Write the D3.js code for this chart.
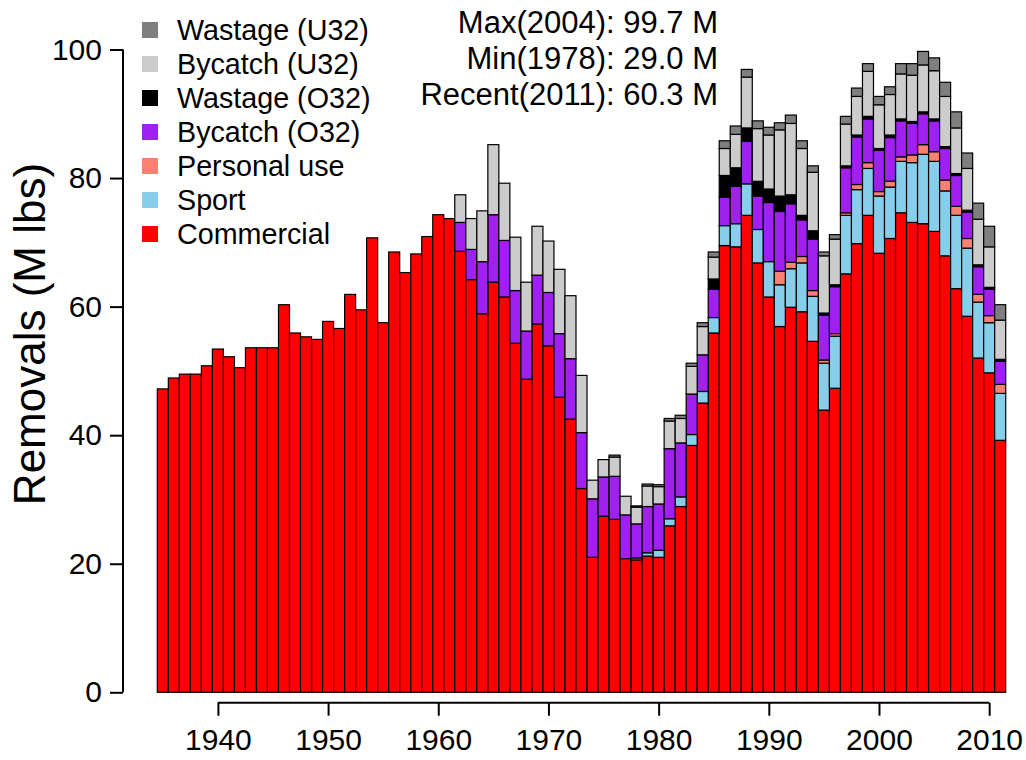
<!DOCTYPE html>
<html><head><meta charset="utf-8">
<script src="https://cdn.jsdelivr.net/npm/d3@7"></script>
<style>body{margin:0;background:#fff}svg{display:block;font-family:"Liberation Sans",Arial,sans-serif}</style>
</head><body>
<svg id="chart" width="1026" height="760"></svg>
<script>
const years = [1935,1936,1937,1938,1939,1940,1941,1942,1943,1944,1945,1946,1947,1948,1949,1950,1951,1952,1953,1954,1955,1956,1957,1958,1959,1960,1961,1962,1963,1964,1965,1966,1967,1968,1969,1970,1971,1972,1973,1974,1975,1976,1977,1978,1979,1980,1981,1982,1983,1984,1985,1986,1987,1988,1989,1990,1991,1992,1993,1994,1995,1996,1997,1998,1999,2000,2001,2002,2003,2004,2005,2006,2007,2008,2009,2010,2011];

const commercial = [47.2,48.9,49.5,49.5,50.8,53.4,52.2,50.5,53.6,53.6,53.6,60.3,55.9,55.3,54.9,57.7,56.6,61.9,59.5,70.7,57.5,68.5,65.3,68.2,70.9,74.3,73.7,
 68.6,64.2,58.9,63.8,61.5,54.3,48.7,57.3,53.9,45.9,42.5,31.7,
 21.0,27.4,26.9,20.8,20.6,21.2,21.0,25.9,28.9,38.4,45.0,
 55.9,69.5,69.3,74.2,66.8,61.5,56.9,59.9,59.2,54.6,43.9,47.3,
 65.1,69.8,74.2,68.3,70.6,74.6,73.1,72.9,71.7,67.9,62.8,58.5,52.0,49.7,39.2];
const sport = [0,0,0,0,0,0,0,0,0,0,0,0,0,0,0,0,0,0,0,0,0,0,0,0,0,0,0,0,0,0,0,0,0,0,0,0,0,0,0,0,0,0,0,
 0.3,0.5,1.1,1.1,1.5,1.7,1.8,2.4,3.1,3.6,4.9,5.2,5.5,6.5,6.0,7.6,7.0,7.3,8.1,9.1,8.4,7.3,8.9,8.0,8.0,9.3,10.8,10.9,10.1,11.4,10.6,8.7,7.8,7.3];
const personalUse = [0,0,0,0,0,0,0,0,0,0,0,0,0,0,0,0,0,0,0,0,0,0,0,0,0,0,0,0,0,0,0,0,0,0,0,0,0,0,0,0,0,0,0,0,0,0,0,0,0,0,0,0,0,0,0,0,
 2.1,1.0,1.0,0.9,0.5,0.4,0.4,0.8,0.9,0.7,0.9,0.7,1.2,1.5,1.5,1.7,1.4,1.5,1.2,1.1,1.4];
const bycatchO32 = [0,0,0,0,0,0,0,0,0,0,0,0,0,0,0,0,0,0,0,0,0,0,0,0,0,0,0,
 4.5,4.7,8.1,10.5,8.8,8.2,7.5,7.6,8.3,9.9,9.4,8.7,9.1,6.1,6.7,6.8,5.3,7.2,7.2,10.9,8.4,6.3,5.7,
 4.4,4.4,5.8,6.6,5.2,9.2,9.3,9.1,5.7,8.0,7.0,7.3,7.0,7.4,6.8,6.4,6.8,5.6,4.9,4.8,4.8,4.9,4.8,4.1,4.3,4.1,3.6];
const wastageO32 = [0,0,0,0,0,0,0,0,0,0,0,0,0,0,0,0,0,0,0,0,0,0,0,0,0,0,0,0,0,0,0,0,0,0,0,0,0,0,0,0,0,0,0,0,0,0,0,0,0,0,
 1.6,3.4,2.9,2.1,2.3,2.1,2.4,1.4,0.7,1.3,0.3,0.3,0.3,0.3,0.4,0.3,0.4,0.3,0.3,0.3,0.3,0.3,0.3,0.3,0.3,0.3,0.3];
const bycatchU32 = [0,0,0,0,0,0,0,0,0,0,0,0,0,0,0,0,0,0,0,0,0,0,0,0,0,0,0,
 4.3,4.8,7.9,10.9,8.9,8.3,7.6,7.6,8.0,10.0,9.8,8.9,2.9,2.7,3.0,2.9,2.6,3.2,2.7,4.3,3.8,4.3,4.4,
 3.4,4.2,5.2,7.9,8.2,8.4,10.3,11.1,10.4,9.1,8.9,7.1,6.5,6.0,7.0,6.8,6.3,7.0,7.2,7.3,7.5,7.8,7.1,6.5,7.1,6.3,6.1];
const wastageU32 = [0,0,0,0,0,0,0,0,0,0,0,0,0,0,0,0,0,0,0,0,0,0,0,0,0,0,0,0,0,0,0,0,0,0,0,0,0,0,0,0,0,
 0.3,0,0.2,0.3,0.3,0.4,0.5,0.5,0.6,0.8,1.2,1.3,1.2,1.2,1.2,1.1,1.3,1.2,1.0,0.6,0.7,1.2,1.3,1.2,1.3,1.2,1.6,1.8,2.1,2.0,2.2,2.5,2.4,2.5,3.2,2.4];

const seriesNames = ["Commercial","Sport","Personal use","Bycatch (O32)","Wastage (O32)","Bycatch (U32)","Wastage (U32)"];
const seriesColors = ["#FF0000","#87CEEB","#FA8072","#A020F0","#000000","#CCCCCC","#7F7F7F"];
const yTicks = [0,20,40,60,80,100];
const xTicks = [1940,1950,1960,1970,1980,1990,2000,2010];
const statLines = ["Max(2004): 99.7 M","Min(1978): 29.0 M","Recent(2011): 60.3 M"];
const yTitle = "Removals (M lbs)";

const seriesData = [commercial, sport, personalUse, bycatchO32, wastageO32, bycatchU32, wastageU32];
const table = years.map((yr, i) => {
  const row = {year: yr};
  seriesNames.forEach((k, j) => row[k] = seriesData[j][i]);
  return row;
});

const svg = d3.select("#chart");
const x = d3.scaleBand().domain(years).range([157.3, 1005.7]).padding(0);
const y = d3.scaleLinear().domain([0, 100]).range([692.3, 49.5]);
const color = d3.scaleOrdinal().domain(seriesNames).range(seriesColors);

const stacked = d3.stack().keys(seriesNames)(table);

svg.append("g").selectAll("g").data(stacked).join("g")
  .attr("fill", d => color(d.key))
  .selectAll("rect").data(d => d).join("rect")
  .attr("x", d => x(d.data.year))
  .attr("width", x.bandwidth())
  .attr("y", d => y(d[1]))
  .attr("height", d => Math.max(0, y(d[0]) - y(d[1])))
  .attr("stroke", "#000")
  .attr("stroke-width", 1.2)
  .attr("display", d => (d[1] - d[0]) > 0 ? null : "none");

// y axis
const yAxis = svg.append("g").attr("transform", "translate(123,0)")
  .call(d3.axisLeft(y).tickValues(yTicks).tickSize(13).tickPadding(8).tickFormat(d3.format("d")));
yAxis.select(".domain").attr("stroke-width", 2).attr("d", `M-0,${y(0)}V${y(100)}`);
yAxis.selectAll(".tick line").attr("stroke-width", 2);
yAxis.selectAll("text").attr("font-size", 30).attr("font-family", "Liberation Sans, Arial, sans-serif").attr("fill", "#000");

// x axis
const xc = d => x(d) + x.bandwidth() / 2;
const xAxisScale = d3.scaleLinear().domain([1940, 2010]).range([xc(1940), xc(2010)]);
const xAxis = svg.append("g").attr("transform", "translate(0,702.7)")
  .call(d3.axisBottom(xAxisScale).tickValues(xTicks).tickSize(13).tickPadding(13).tickFormat(d3.format("d")));
xAxis.select(".domain").attr("stroke-width", 2).attr("d", `M${xc(1940)},0H${xc(2010)}`);
xAxis.selectAll(".tick line").attr("stroke-width", 2);
xAxis.selectAll("text").attr("font-size", 30).attr("font-family", "Liberation Sans, Arial, sans-serif").attr("fill", "#000");

// y title
svg.append("text")
  .attr("transform", "translate(45,334) rotate(-90)")
  .attr("text-anchor", "middle")
  .attr("font-size", 44)
  .text(yTitle);

// legend
const legendOrder = seriesNames.slice().reverse();
const lg = svg.append("g");
legendOrder.forEach((name, i) => {
  const cy = 30 + i * 34;
  lg.append("rect").attr("x", 142).attr("y", cy - 8).attr("width", 16).attr("height", 16).attr("fill", color(name));
  lg.append("text").attr("x", 177).attr("y", cy).attr("dominant-baseline", "central").attr("font-size", 28.7).text(name);
});

// stats text
statLines.forEach((t, i) => {
  svg.append("text").attr("x", 718).attr("y", 33 + i * 36).attr("text-anchor", "end").attr("font-size", 31).text(t);
});
</script>
</body></html>
